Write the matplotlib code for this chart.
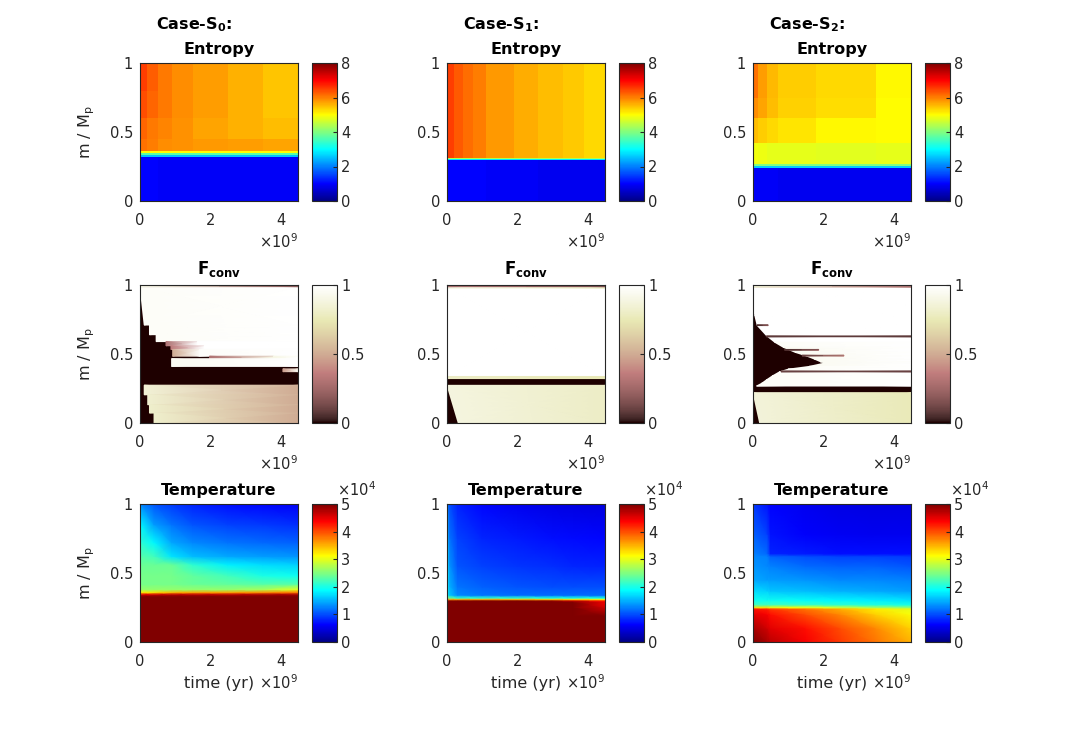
import matplotlib.pyplot as plt
from matplotlib.colors import Normalize, LinearSegmentedColormap
from matplotlib.cm import ScalarMappable

# axes / colorbar ticks
x_ticks = [0, 2, 4]          # time in 1e9 yr
y_ticks = [0, 0.5, 1]        # m / Mp
ent_ticks = [0, 2, 4, 6, 8]
fc_ticks = [0, 0.5, 1]
tmp_ticks = [0, 1, 2, 3, 4, 5]   # 1e4 K

# ---- Entropy: flat cells, time edges (1e9 yr), mass edges, values ----
ent0_t = [0, 0.2, 0.5, 0.9, 1.5, 2.5, 3.5, 4.5]
ent0_m = [0, 0.32, 0.335, 0.35, 0.365, 0.45, 0.6, 0.8, 1.0]
ent0_v = [
    [1.0, 1.0, 0.95, 0.95, 0.95, 0.95, 0.95],
    [2.5, 2.5, 2.5, 2.5, 2.5, 2.5, 2.5],
    [3.7, 3.7, 3.7, 3.7, 3.7, 3.7, 3.7],
    [5.0, 5.0, 5.0, 5.0, 5.0, 5.0, 5.0],
    [6.1, 6.0, 5.9, 5.85, 5.8, 5.75, 5.7],
    [6.2, 6.05, 5.95, 5.85, 5.7, 5.6, 5.5],
    [6.4, 6.2, 6.05, 5.9, 5.75, 5.6, 5.45],
    [6.5, 6.25, 6.05, 5.9, 5.75, 5.6, 5.45],
]

ent1_t = [0, 0.2, 0.45, 0.75, 1.1, 1.9, 2.6, 3.3, 3.9, 4.5]
ent1_m = [0, 0.295, 0.303, 0.311, 1.0]
ent1_v = [
    [1.0, 1.0, 1.0, 1.0, 0.95, 0.95, 0.9, 0.9, 0.9],
    [2.8, 2.8, 2.8, 2.8, 2.8, 2.8, 2.8, 2.8, 2.8],
    [4.4, 4.4, 4.4, 4.4, 4.4, 4.4, 4.4, 4.4, 4.4],
    [6.5, 6.3, 6.15, 6.0, 5.8, 5.65, 5.5, 5.42, 5.3],
]

ent2_t = [0, 0.15, 0.4, 0.7, 1.8, 3.5, 4.5]
ent2_m = [0, 0.242, 0.254, 0.266, 0.42, 0.6, 0.75, 1.0]
ent2_v = [
    [0.95, 0.95, 0.95, 0.9, 0.9, 0.9],
    [2.6, 2.6, 2.6, 2.6, 2.6, 2.6],
    [4.0, 4.0, 4.0, 4.0, 4.0, 4.0],
    [4.9, 4.85, 4.8, 4.8, 4.75, 4.8],
    [5.5, 5.4, 5.3, 5.2, 5.05, 5.0],
    [5.9, 5.7, 5.5, 5.35, 5.25, 5.02],
    [6.1, 5.75, 5.55, 5.4, 5.3, 5.05],
]

# ---- F_conv: convective bands on a non-convective (0) background ----
# m_lo, m_hi, t_start at m_lo, t_start at m_hi, t_end, value at start, value at end
fc0_bands = [
    (0.71, 0.988, 0.12, 0.0, 4.5, 0.97, 1.0),
    (0.64, 0.71, 0.27, 0.27, 4.5, 0.97, 1.0),
    (0.59, 0.64, 0.46, 0.46, 4.5, 0.97, 1.0),
    (0.56, 0.59, 0.74, 0.74, 1.64, 0.3, 1.0),
    (0.56, 0.59, 1.64, 1.64, 4.5, 1.0, 1.0),
    (0.533, 0.56, 0.88, 0.88, 1.83, 0.35, 1.0),
    (0.533, 0.56, 1.83, 1.83, 4.5, 1.0, 1.0),
    (0.484, 0.533, 0.93, 0.93, 1.7, 0.5, 0.98),
    (0.484, 0.533, 1.7, 1.7, 4.5, 0.98, 1.0),
    (0.466, 0.484, 1.98, 1.98, 3.8, 0.3, 0.9),
    (0.466, 0.484, 3.8, 3.8, 4.5, 0.9, 1.0),
    (0.41, 0.466, 0.9, 0.9, 4.5, 0.95, 1.0),
    (0.372, 0.392, 4.07, 4.07, 4.5, 0.45, 0.95),
    (0.205, 0.274, 0.12, 0.12, 4.5, 0.85, 0.5),
    (0.133, 0.205, 0.22, 0.22, 4.5, 0.83, 0.5),
    (0.073, 0.133, 0.27, 0.27, 4.5, 0.82, 0.5),
    (0.0, 0.073, 0.4, 0.4, 4.5, 0.82, 0.5),
    (0.988, 1.0, 0.0, 0.0, 4.5, 0.9, 0.2),
]

fc1_bands = [
    (0.337, 0.985, 0.0, 0.0, 4.5, 1.0, 1.0),
    (0.322, 0.337, 0.0, 0.0, 4.5, 0.8, 0.75),
    (0.0, 0.273, 0.32, 0.0, 4.5, 0.88, 0.8),
    (0.978, 0.988, 0.0, 0.0, 4.5, 0.9, 0.8),
    (0.988, 1.0, 0.0, 0.0, 4.5, 0.3, 0.15),
]

fc2_bands = [
    (0.854, 0.985, 0.0, 0.0, 4.5, 1.0, 1.0),
    (0.78, 0.854, 0.05, 0.0, 4.5, 1.0, 1.0),
    (0.707, 0.78, 0.12, 0.05, 4.5, 1.0, 1.0),
    (0.634, 0.707, 0.38, 0.12, 4.5, 1.0, 1.0),
    (0.585, 0.634, 0.62, 0.38, 4.5, 1.0, 1.0),
    (0.549, 0.585, 0.86, 0.62, 4.5, 0.97, 1.0),
    (0.512, 0.549, 1.2, 0.86, 4.5, 0.95, 1.0),
    (0.488, 0.512, 1.5, 1.2, 4.5, 0.95, 1.0),
    (0.463, 0.488, 1.75, 1.5, 4.5, 0.95, 1.0),
    (0.444, 0.463, 1.92, 1.75, 4.5, 0.95, 1.0),
    (0.435, 0.444, 2.05, 1.92, 4.5, 0.95, 1.0),
    (0.41, 0.435, 1.6, 2.05, 4.5, 0.95, 1.0),
    (0.39, 0.41, 1.0, 1.6, 4.5, 0.97, 1.0),
    (0.37, 0.39, 0.75, 1.0, 4.5, 0.97, 1.0),
    (0.341, 0.37, 0.55, 0.75, 4.5, 0.97, 1.0),
    (0.312, 0.341, 0.38, 0.55, 4.5, 0.97, 1.0),
    (0.288, 0.312, 0.25, 0.38, 4.5, 0.97, 1.0),
    (0.268, 0.288, 0.1, 0.25, 4.5, 0.97, 1.0),
    (0.0, 0.22, 0.19, 0.0, 4.5, 0.86, 0.76),
    (0.985, 1.0, 0.0, 0.0, 4.5, 0.85, 0.3),
    (0.706, 0.711, 0.12, 0.12, 0.43, 0.05, 0.2),
    (0.528, 0.533, 0.9, 0.9, 1.87, 0.05, 0.25),
    (0.486, 0.491, 1.4, 1.4, 2.59, 0.1, 0.4),
    (0.625, 0.630, 0.38, 0.38, 4.5, 0.08, 0.08),
    (0.371, 0.376, 0.8, 0.8, 4.5, 0.1, 0.1),
]

# ---- Temperature (1e4 K) at grid nodes: time nodes, mass nodes, values ----
tmp0_t = [0, 0.4, 0.9, 1.5, 2.5, 3.5, 4.5]
tmp0_m = [0, 0.33, 0.345, 0.36, 0.38, 0.42, 0.48, 0.56, 0.62, 0.72, 0.85, 1.0]
tmp0_v = [
    [6.0, 6.0, 6.0, 6.0, 6.0, 6.0, 6.0],
    [6.0, 6.0, 6.0, 6.0, 6.0, 6.0, 6.0],
    [4.5, 4.6, 4.7, 4.7, 4.7, 4.8, 4.8],
    [3.2, 3.3, 3.5, 3.6, 3.6, 3.7, 3.8],
    [2.6, 2.6, 2.6, 2.6, 2.6, 2.7, 3.0],
    [2.45, 2.45, 2.45, 2.4, 2.35, 2.3, 2.3],
    [2.45, 2.45, 2.45, 2.35, 2.2, 2.0, 1.95],
    [2.4, 2.4, 2.4, 2.1, 1.8, 1.7, 1.65],
    [2.3, 2.2, 1.75, 1.55, 1.45, 1.4, 1.35],
    [2.1, 1.85, 1.45, 1.3, 1.2, 1.15, 1.1],
    [1.85, 1.4, 1.2, 1.05, 0.95, 0.9, 0.85],
    [1.3, 1.05, 0.9, 0.8, 0.7, 0.65, 0.6],
]

tmp1_t = [0, 0.08, 0.3, 1.0, 2.0, 3.0, 3.6, 4.5]
tmp1_m = [0, 0.19, 0.25, 0.29, 0.3, 0.31, 0.32, 0.34, 0.4, 0.55, 0.75, 1.0]
tmp1_v = [
    [6.0, 6.0, 6.0, 6.0, 6.0, 6.0, 6.0, 6.0],
    [6.0, 6.0, 6.0, 6.0, 6.0, 6.0, 6.0, 5.2],
    [6.0, 6.0, 6.0, 6.0, 6.0, 6.0, 5.6, 4.6],
    [6.0, 6.0, 6.0, 6.0, 6.0, 5.6, 5.0, 4.4],
    [5.5, 5.5, 5.5, 5.4, 5.2, 4.9, 4.6, 4.2],
    [3.8, 3.6, 3.6, 3.6, 3.5, 3.4, 3.3, 3.2],
    [2.6, 2.4, 2.1, 2.1, 2.1, 2.0, 2.0, 2.0],
    [2.0, 1.6, 1.3, 1.2, 1.15, 1.15, 1.15, 1.15],
    [1.9, 1.5, 1.2, 1.1, 1.05, 1.0, 1.0, 1.0],
    [1.8, 1.35, 1.05, 0.95, 0.88, 0.85, 0.82, 0.8],
    [1.6, 1.2, 0.95, 0.82, 0.75, 0.7, 0.67, 0.65],
    [1.3, 1.0, 0.8, 0.65, 0.55, 0.5, 0.47, 0.45],
]

tmp2_t = [0, 0.4, 0.5, 1.5, 2.5, 3.5, 4.5]
tmp2_m = [0, 0.1, 0.2, 0.24, 0.25, 0.27, 0.3, 0.37, 0.45, 0.55, 0.62, 0.64, 0.78, 1.0]
tmp2_v = [
    [5.2, 4.8, 4.7, 4.4, 4.1, 3.8, 3.5],
    [4.8, 4.6, 4.5, 4.3, 4.0, 3.7, 3.35],
    [4.5, 4.4, 4.3, 4.0, 3.7, 3.35, 3.1],
    [4.3, 4.2, 4.1, 3.8, 3.5, 3.2, 3.0],
    [3.3, 3.3, 3.2, 3.1, 2.9, 2.7, 2.6],
    [2.2, 2.2, 2.2, 2.15, 2.1, 2.05, 2.0],
    [1.95, 1.95, 1.95, 1.9, 1.85, 1.8, 1.75],
    [1.7, 1.65, 1.6, 1.55, 1.5, 1.45, 1.4],
    [1.45, 1.4, 1.4, 1.35, 1.3, 1.3, 1.25],
    [1.35, 1.3, 1.25, 1.15, 1.1, 1.1, 1.05],
    [1.3, 1.25, 1.1, 1.0, 0.95, 0.95, 0.9],
    [1.25, 1.15, 0.8, 0.75, 0.7, 0.7, 0.7],
    [1.1, 0.95, 0.72, 0.62, 0.58, 0.55, 0.55],
    [0.9, 0.72, 0.64, 0.55, 0.5, 0.48, 0.48],
]

ent_data = [(ent0_t, ent0_m, ent0_v), (ent1_t, ent1_m, ent1_v), (ent2_t, ent2_m, ent2_v)]
fc_data = [fc0_bands, fc1_bands, fc2_bands]
tmp_data = [(tmp0_t, tmp0_m, tmp0_v), (tmp1_t, tmp1_m, tmp1_v), (tmp2_t, tmp2_m, tmp2_v)]

# MATLAB-style jet
jet_m = LinearSegmentedColormap('jet_m', {
    'red': [(0, 0, 0), (0.375, 0, 0), (0.625, 1, 1), (0.875, 1, 1), (1, 0.5, 0.5)],
    'green': [(0, 0, 0), (0.125, 0, 0), (0.375, 1, 1), (0.625, 1, 1), (0.875, 0, 0), (1, 0, 0)],
    'blue': [(0, 0.53, 0.53), (0.125, 1, 1), (0.375, 1, 1), (0.625, 0, 0), (1, 0, 0)],
})
pink = plt.get_cmap('pink')


def lab(v):
    return f'{v:g}'


# layout in pixels
W, H = 1090.0, 734.0
ax_left = [140, 447, 753]
cb_left = [312, 619, 925]
row_top = [63, 285, 504]
ax_w, ax_h, cb_w = 158, 138, 25
gray = '#262626'


def box(x, top, w, h):
    return [x / W, 1 - (top + h) / H, w / W, h / H]


fig = plt.figure(figsize=(10.9, 7.34), dpi=100)

row_cfg = [
    ('Entropy', jet_m, 8, ent_ticks),
    (r'F$_\mathbf{conv}$', pink, 1, fc_ticks),
    ('Temperature', jet_m, 5, tmp_ticks),
]

for i, (title, cmap, vmax, cticks) in enumerate(row_cfg):
    for j in range(3):
        ax = fig.add_axes(box(ax_left[j], row_top[i], ax_w, ax_h))
        if i == 0:
            t, m, v = ent_data[j]
            ax.pcolormesh(t, m, v, cmap=cmap, vmin=0, vmax=vmax, shading='flat')
        elif i == 1:
            ax.set_facecolor(cmap(0.0))
            for m0, m1, ta, tb, te, va, vb in fc_data[j]:
                ax.pcolormesh([[ta, te], [tb, te]], [[m0, m0], [m1, m1]],
                              [[va, vb], [va, vb]], cmap=cmap, vmin=0, vmax=vmax,
                              shading='gouraud')
        else:
            t, m, v = tmp_data[j]
            ax.pcolormesh(t, m, v, cmap=cmap, vmin=0, vmax=vmax, shading='gouraud')

        ax.set_xlim(0, 4.5)
        ax.set_ylim(0, 1)
        ax.set_xticks(x_ticks, labels=[lab(v) for v in x_ticks])
        ax.set_yticks(y_ticks, labels=[lab(v) for v in y_ticks])
        ax.tick_params(length=0, labelsize=10.5, labelcolor=gray)
        ax.tick_params(axis='x', pad=8.5)
        ax.tick_params(axis='y', pad=5)
        for s in ax.spines.values():
            s.set_edgecolor(gray)
            s.set_linewidth(0.8)
        ax.set_title(title, fontsize=12 if i == 1 else 11.5, fontweight='bold',
                     pad=4.5, va='bottom')
        if j == 0:
            ax.set_ylabel(r'm / M$_\mathrm{p}$', fontsize=11.5, color=gray, labelpad=9)
        if i == 2:
            ax.set_xlabel('time (yr)', fontsize=11.5, color=gray, labelpad=5)

        fig.text((ax_left[j] + ax_w) / W, 1 - (row_top[i] + ax_h + 41) / H,
                 r'$\times10^{9}$', ha='right', va='center', fontsize=10.5, color=gray)

        cax = fig.add_axes(box(cb_left[j], row_top[i], cb_w, ax_h))
        cb = fig.colorbar(ScalarMappable(Normalize(0, vmax), cmap), cax=cax)
        cb.set_ticks(cticks, labels=[lab(v) for v in cticks])
        cb.outline.set_edgecolor(gray)
        cb.outline.set_linewidth(0.8)
        cax.tick_params(direction='in', length=3, width=0.8, color=gray,
                        labelsize=10.5, labelcolor=gray, pad=3)
        if i == 2:
            fig.text((cb_left[j] + cb_w) / W, 1 - (row_top[i] - 14) / H,
                     r'$\times10^{4}$', ha='left', va='center', fontsize=10.5, color=gray)

for j in range(3):
    fig.text((ax_left[j] + 16) / W, 1 - 29 / H, r'Case-S$_\mathbf{%d}$:' % j,
             ha='left', va='baseline', fontsize=11.5, fontweight='bold')

fig.savefig('out.png', dpi=100)
